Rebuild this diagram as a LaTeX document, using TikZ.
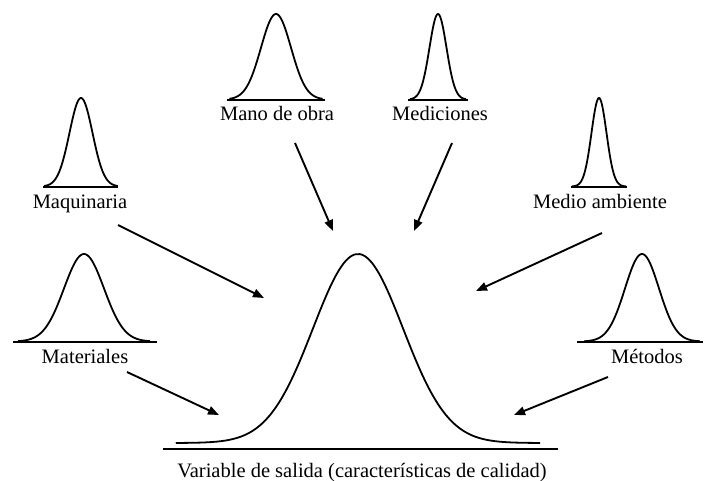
\documentclass[tikz,border=0pt]{standalone}
\usepackage{fontspec}
\setmainfont{Liberation Serif}
\usetikzlibrary{arrows.meta}
\tikzset{
  curve/.style={line width=1.8pt, line join=round, smooth, samples=90},
  base/.style={line width=1.7pt},
  lbl/.style={anchor=base, inner sep=0pt, font=\fontsize{20.5}{24}\selectfont},
  arr/.style={line width=1.9pt, -{Triangle[length=11pt,width=8.5pt]}}
}
% #1 cx, #2 top y, #3 curve base y, #4 sigma, #5 t-range
\newcommand\bellcurve[5]{%
  \draw[curve] plot[domain=-#5:#5] ({#1+#4*\x},{#3-(#3-#2)*exp(-\x*\x/2)});}
\begin{document}
\begin{tikzpicture}[x=1pt,y=-1pt]
\useasboundingbox (0,0) rectangle (704,481);
% Maquinaria
\bellcurve{81}{98}{186.5}{11.5}{3.2}
\draw[base] (43,187) -- (118,187);
\node[lbl] (maq) at (80,208) {Maquinaria};
% Materiales
\bellcurve{84}{254}{341.5}{20}{3.3}
\draw[base] (13,342) -- (157,342);
\node[lbl] (mat) at (85,363) {Materiales};
% Mano de obra
\bellcurve{276}{14}{99.5}{15}{3.1}
\draw[base] (227,100) -- (325,100);
\node[lbl] (mano) at (277,121) {Mano de obra};
% Mediciones
\bellcurve{438}{14}{99.5}{8.5}{3.3}
\draw[base] (408,100) -- (468,100);
\node[lbl] (med) at (440,121) {Mediciones};
% Medio ambiente
\bellcurve{599}{98}{186.5}{7.5}{3.6}
\draw[base] (571,187) -- (627,187);
\node[lbl] (amb) at (600,208) {Medio ambiente};
% Metodos
\bellcurve{642}{254}{341.5}{17}{3.4}
\draw[base] (577,342) -- (703,342);
\node[lbl] (met) at (647,363) {Métodos};
% main output curve
\bellcurve{358}{254}{443}{45}{4.05}
\draw[base] (163,449) -- (558,449);
\node[lbl] (out) at (362,477) {Variable de salida (características de calidad)};
% arrow ends
\coordinate (s1) at (118,225); \coordinate (e1) at (264,298);
\coordinate (s2) at (127,372); \coordinate (e2) at (219,415);
\coordinate (s3) at (295,143); \coordinate (e3) at (333,231);
\coordinate (s4) at (452,143); \coordinate (e4) at (414,231);
\coordinate (s5) at (602,233); \coordinate (e5) at (476,291);
\coordinate (s6) at (608,377); \coordinate (e6) at (514,415);
\draw[arr] (s1) -- (e1);
\draw[arr] (s2) -- (e2);
\draw[arr] (s3) -- (e3);
\draw[arr] (s4) -- (e4);
\draw[arr] (s5) -- (e5);
\draw[arr] (s6) -- (e6);
\end{tikzpicture}
\end{document}
